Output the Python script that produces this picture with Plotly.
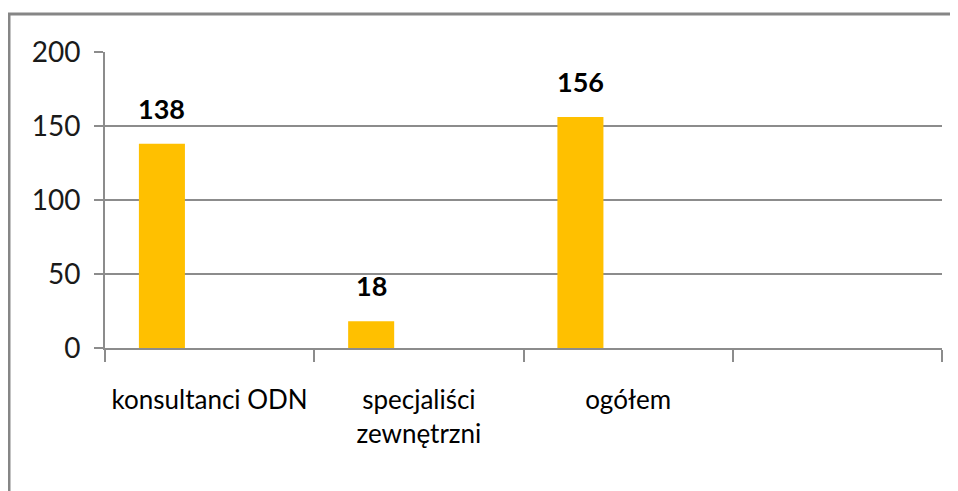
import plotly.graph_objects as go

categories = ["konsultanci ODN", "specjaliści<br>zewnętrzni", "ogółem", " "]
values = [138, 18, 156, None]
y_ticks = [0, 50, 100, 150, 200]

BAR_COLOR = "#FFC000"
GRID = "#8C8C8C"
FONT = "Lato, Liberation Sans, sans-serif"
BAR_OFFSET = -0.338
BAR_WIDTH = 0.22

fig = go.Figure()
fig.add_trace(go.Bar(
    x=categories, y=values,
    marker=dict(color=BAR_COLOR, line=dict(width=0)),
    offset=BAR_OFFSET, width=BAR_WIDTH,
    hoverinfo="skip",
))

for i, v in enumerate(values):
    if v is None:
        continue
    fig.add_annotation(
        x=i + BAR_OFFSET + BAR_WIDTH / 2, y=v, xref="x", yref="y",
        text=f"<b>{v}</b>", showarrow=False, yanchor="bottom", yshift=17,
        font=dict(family=FONT, size=27, color="black"),
    )

fig.add_shape(type="rect", xref="paper", yref="paper",
              x0=-0.1147, x1=1.2, y0=-0.7, y1=1.128,
              line=dict(color="#868686", width=3), layer="below")

fig.update_layout(
    width=958, height=491,
    margin=dict(l=97, r=24, t=44, b=151, autoexpand=False),
    plot_bgcolor="white", paper_bgcolor="white",
    showlegend=False,
    font=dict(family=FONT, size=26, color="black"),
    xaxis=dict(
        type="category", categoryorder="array", categoryarray=categories,
        range=[-0.5, 3.5], showgrid=False, automargin=False, tickangle=0,
        showline=True, linecolor=GRID, linewidth=2,
        ticks="outside", tickson="boundaries", ticklen=12, tickcolor=GRID, tickwidth=2,
        ticklabelstandoff=28,
        tickfont=dict(family=FONT, size=26, color="black"),
    ),
    yaxis=dict(
        range=[0, 200], tickvals=y_ticks, showgrid=True, gridcolor=GRID, gridwidth=2,
        showline=True, linecolor=GRID, linewidth=2, automargin=False,
        ticks="outside", ticklen=9, tickcolor=GRID, tickwidth=2,
        ticklabelstandoff=8, zeroline=False,
        tickfont=dict(family=FONT, size=28, color="#1a1a1a"),
    ),
)

fig.write_html("out.html")
